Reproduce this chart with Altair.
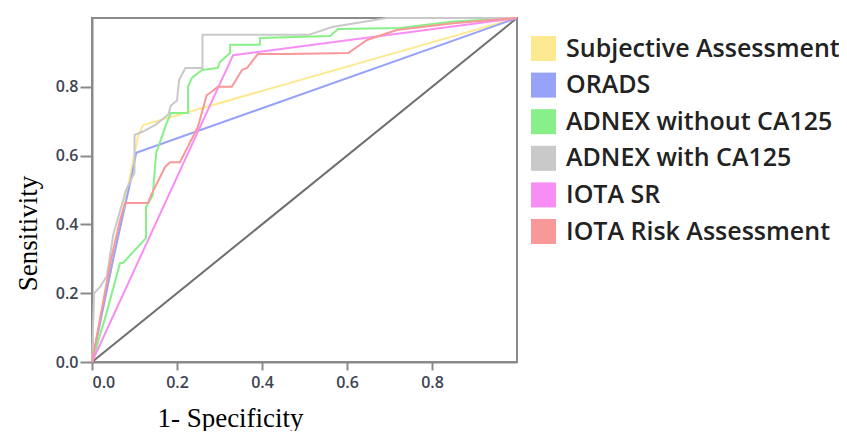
import altair as alt
import pandas as pd

series_names = [
    "Subjective Assessment",
    "ORADS",
    "ADNEX without CA125",
    "ADNEX with CA125",
    "IOTA SR",
    "IOTA Risk Assessment",
]
series_colors = ["#fde98f", "#97a3f8", "#88f088", "#c9c9c9", "#f88df6", "#f89898"]

subj_fpr = [0, 0.05, 0.108, 0.12, 1.0]
subj_tpr = [0, 0.30, 0.654, 0.689, 1.0]

orads_fpr = [0, 0.05, 0.095, 0.104, 1.0]
orads_tpr = [0, 0.30, 0.55, 0.608, 1.0]

adnex_wo_fpr = [0, 0.033, 0.066, 0.073, 0.127, 0.127, 0.143, 0.151, 0.174, 0.186,
                0.226, 0.226, 0.235, 0.259, 0.296, 0.301, 0.325, 0.325, 0.395, 0.395,
                0.56, 0.579, 0.725, 0.85, 1.0]
adnex_wo_tpr = [0, 0.137, 0.288, 0.288, 0.36, 0.45, 0.485, 0.608, 0.689, 0.724,
                0.724, 0.80, 0.826, 0.849, 0.855, 0.872, 0.898, 0.922, 0.922, 0.942,
                0.948, 0.968, 0.971, 0.99, 1.0]

adnex_w_fpr = [0, 0.005, 0.02, 0.035, 0.05, 0.08, 0.1, 0.1, 0.12, 0.15, 0.17, 0.18,
               0.185, 0.2, 0.205, 0.22, 0.26, 0.26, 0.51, 0.565, 0.694, 1.0]
adnex_w_tpr = [0, 0.20, 0.22, 0.25, 0.37, 0.50, 0.55, 0.66, 0.67, 0.69, 0.71, 0.72,
               0.745, 0.76, 0.82, 0.855, 0.855, 0.951, 0.951, 0.974, 1.0, 1.0]

iota_sr_fpr = [0, 0.332, 1.0]
iota_sr_tpr = [0, 0.892, 1.0]

iota_ra_fpr = [0, 0.045, 0.066, 0.078, 0.132, 0.139, 0.172, 0.184, 0.207, 0.249, 0.27,
               0.278, 0.296, 0.329, 0.353, 0.365, 0.39, 0.461, 0.603, 0.647, 0.717, 0.85, 1.0]
iota_ra_tpr = [0, 0.30, 0.413, 0.462, 0.462, 0.485, 0.567, 0.581, 0.581, 0.683, 0.776,
               0.782, 0.80, 0.80, 0.849, 0.855, 0.895, 0.895, 0.898, 0.936, 0.965, 0.985, 1.0]

diag_fpr = [0, 1]
diag_tpr = [0, 1]

x_ticks = [0, 0.2, 0.4, 0.6, 0.8]
y_ticks = [0, 0.2, 0.4, 0.6, 0.8]

rows = []
for name, fx, ty in zip(series_names,
                        [subj_fpr, orads_fpr, adnex_wo_fpr, adnex_w_fpr, iota_sr_fpr, iota_ra_fpr],
                        [subj_tpr, orads_tpr, adnex_wo_tpr, adnex_w_tpr, iota_sr_tpr, iota_ra_tpr]):
    for i, (a, b) in enumerate(zip(fx, ty)):
        rows.append({"model": name, "fpr": a, "tpr": b, "idx": i})
df = pd.DataFrame(rows)
diag = pd.DataFrame({"fpr": diag_fpr, "tpr": diag_tpr})

xs = alt.Scale(domain=[0, 1], nice=False)
ys = alt.Scale(domain=[0, 1], nice=False)
cs = alt.Scale(domain=series_names, range=series_colors)

x_axis = alt.Axis(values=x_ticks, format=".1f", title="1- Specificity",
                  titleX=138, titleY=64, titleBaseline="alphabetic",
                  tickSize=8, labelPadding=4)
y_axis = alt.Axis(values=y_ticks, format=".1f", title="Sensitivity",
                  titleX=-64, titleY=215, titleBaseline="middle", titleAngle=-90,
                  tickSize=12, labelPadding=2)

legend = alt.Legend(title=None, orient="none", legendX=439, legendY=18,
                    symbolType="square", symbolSize=625, symbolOpacity=1,
                    symbolStrokeWidth=0,
                    labelFont="Open Sans", labelFontWeight=600,
                    labelFontSize=25, labelColor="#222222",
                    rowPadding=10.6, labelOffset=10, labelLimit=400)

# invisible filled squares that only provide filled legend swatches
swatches = alt.Chart(df).mark_square(filled=True, opacity=0).encode(
    x=alt.X("fpr:Q", scale=xs, axis=x_axis),
    y=alt.Y("tpr:Q", scale=ys, axis=y_axis),
    color=alt.Color("model:N", scale=cs, legend=legend),
)

diag_line = alt.Chart(diag).mark_line(color="#6e6e6e", strokeWidth=2).encode(
    x=alt.X("fpr:Q", scale=xs),
    y=alt.Y("tpr:Q", scale=ys),
)

curves = alt.Chart(df).mark_line(strokeWidth=2, interpolate="linear").encode(
    x=alt.X("fpr:Q", scale=xs),
    y=alt.Y("tpr:Q", scale=ys),
    order=alt.Order("idx:Q"),
    color=alt.Color("model:N", scale=cs, legend=legend),
)

chart = alt.layer(swatches, diag_line, curves).properties(
    width=425, height=344,
    autosize=alt.AutoSizeParams(type="none"),
    padding={"left": 84, "top": 10, "right": 322, "bottom": 69},
).configure_view(
    stroke="#8a8a8a", strokeWidth=2
).configure_axis(
    grid=False,
    domainColor="#8a8a8a", domainWidth=2,
    tickColor="#8a8a8a", tickWidth=2,
    labelFont="Open Sans", labelFontWeight=600, labelFontSize=16, labelColor="#3d4452",
    titleFont="Liberation Serif", titleFontSize=27, titleFontWeight="normal", titleColor="black",
)

chart.save("out.html", embed_options={"renderer": "svg", "actions": False})
